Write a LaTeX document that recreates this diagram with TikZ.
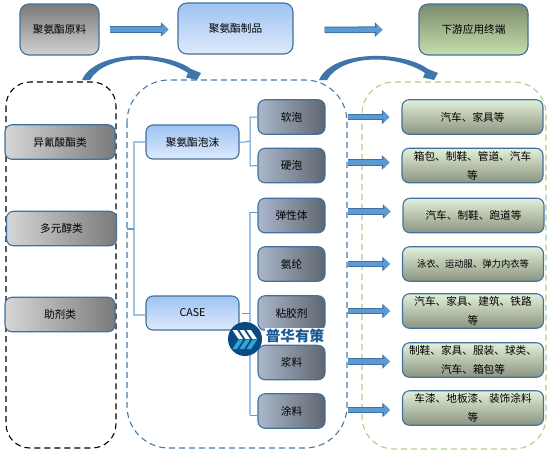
\documentclass[tikz,border=0pt]{standalone}
\usepackage{fontspec}
\setmainfont{Noto Sans CJK SC}
\usetikzlibrary{arrows.meta}
\def\px{0.75pt}
\definecolor{edgeblue}{HTML}{41719C}
\definecolor{arrowfill}{HTML}{5B9BD5}
\definecolor{arrowedge}{HTML}{41719C}
\definecolor{treelight}{HTML}{9DC3E6}
\definecolor{treemid}{HTML}{5B9BD5}
\definecolor{frameblue}{HTML}{4A7BA8}
\definecolor{framegreen}{HTML}{A9D18E}
\definecolor{markblue}{HTML}{0B4A80}
\definecolor{markcyan}{HTML}{2FA8D8}
\definecolor{marktext}{HTML}{1B5A94}
\definecolor{bluegrad1}{HTML}{9DC3F2}
\definecolor{bluegrad2}{HTML}{DEEAFB}
\definecolor{green1}{HTML}{7C8A6C}
\definecolor{green2}{HTML}{C6E0AC}
\definecolor{prodl}{HTML}{AAB7CB}
\definecolor{prodr}{HTML}{5F6670}
\definecolor{use1}{HTML}{E2F0D9}
\definecolor{use2}{HTML}{8C9480}
\definecolor{bendend}{HTML}{3F75AB}
\definecolor{bendmid}{HTML}{8DB3DA}
\tikzset{
  base/.style={draw=edgeblue,line width=1.1*\px,rounded corners=7*\px,inner sep=0pt,font=\fontsize{8}{14.25}\selectfont,align=center},
  big/.style={base,rounded corners=9*\px},
  greytop/.style={big,top color=black!52,bottom color=black!18},
  greentop/.style={big,top color=green1,bottom color=green2},
  rawitem/.style={base,left color=black!16,right color=black!52,minimum width=110*\px,minimum height=34.5*\px},
  foamcase/.style={base,top color=bluegrad1,bottom color=bluegrad2,minimum width=93*\px,minimum height=34*\px},
  product/.style={base,left color=prodl,right color=prodr,minimum width=67*\px,minimum height=34.5*\px},
  useend/.style={base,top color=use1,bottom color=use2,minimum width=141*\px,minimum height=34.5*\px},
  blockarrow/.style={preaction={draw=arrowedge,line width=6.5*\px,-{Triangle[length=7.5*\px,width=14*\px]}},draw=arrowfill,line width=4.5*\px,-{Triangle[length=6*\px,width=11*\px]}},
  treethin/.style={draw=treemid,line width=1*\px},
  treethick/.style={draw=treelight,line width=2*\px},
  frameshape/.style={line width=1.1*\px,dash pattern=on 6*\px off 4*\px},
  bendarrow/.style={left color=bendend,middle color=bendmid,right color=bendend,draw=none},
}
\begin{document}
\begin{tikzpicture}[x=0.75pt,y=-0.75pt]
\useasboundingbox[fill=white] (0,0) rectangle (552,455);
% frames
\draw[frameshape,draw=black,rounded corners=24*\px] (6,82) rectangle (116,448);
\draw[frameshape,draw=frameblue,rounded corners=42*\px] (127,80) rectangle (347,448);
\draw[frameshape,draw=framegreen,rounded corners=32*\px] (362,82) rectangle (546,449);
% top row
\node[greytop,minimum width=79*\px,minimum height=51*\px] (raw) at (59.5,29.5) {聚氨酯原料};
\node[big,top color=bluegrad1,bottom color=bluegrad2,minimum width=115*\px,minimum height=51*\px] (prod) at (235.5,28.5) {聚氨酯制品};
\node[greentop,minimum width=109*\px,minimum height=51*\px] (down) at (473.5,29.5) {下游应用终端};
% raw materials
\node[rawitem] (iso) at (60,142) {异氰酸酯类};
\node[rawitem] (poly) at (61.5,228.5) {多元醇类};
\node[rawitem] (aux) at (60,314.5) {助剂类};
% tree nodes
\coordinate (stub) at (127,229);
\coordinate (junc) at (134,229);
\coordinate (spineTop) at (250,212);
\node[foamcase] (foam) at (192.5,142) {聚氨酯泡沫};
\node[foamcase] (case) at (192.5,313) {CASE};
\node[product] (soft) at (291.5,117) {软泡};
\node[product] (hard) at (291.5,165.5) {硬泡};
\node[product] (elast) at (291.5,215.5) {弹性体};
\node[product] (span) at (291.5,264) {氨纶};
\node[product] (glue) at (291.5,313) {粘胶剂};
\node[product] (slurry) at (291.5,362.5) {浆料};
\node[product] (coat) at (291.5,411) {涂料};
\draw[treethick] (foam.west) -- (134,142) -- (134,315) -- ([yshift=-2*\px]case.west);
\draw[treethin,line width=1.5*\px] (stub) -- (junc);
\draw[treethin] (foam.east) -- (245,142) -- (250,141) -- (250,117) -- (soft.west);
\draw[treethin] (250,141) -- (250,166) -- (hard.west);
\draw[treethick] (spineTop) -- (250,415);
\draw[treethin] ([yshift=3.5*\px]elast.west) -- (spineTop);
\draw[treethin] ([yshift=-4*\px]coat.west) -- (250,415);
\draw[treethin] (242,313) -- (250,313);
% use nodes
\node[useend] (u1) at (472.5,117) {汽车、家具等};
\node[useend] (u2) at (472.5,165.5) {箱包、制鞋、管道、汽车\\等};
\node[useend] (u3) at (473.5,215.5) {汽车、制鞋、跑道等};
\node[useend,font=\fontsize{7}{14.25}\selectfont] (u4) at (473,264) {泳衣、运动服、弹力内衣等};
\node[useend] (u5) at (473,311) {汽车、家具、建筑、铁路\\等};
\node[useend] (u6) at (473,360) {制鞋、家具、服装、球类、\\汽车、箱包等};
\node[useend] (u7) at (473,408) {车漆、地板漆、装饰涂料\\等};
% block arrows
\draw[blockarrow,shorten <=10*\px,shorten >=9*\px] (raw.east) -- (prod.west |- raw.east);
\draw[blockarrow,shorten <=31*\px,shorten >=36*\px] (prod.east) ++(0,1.5) -- (down.west);
\foreach \a/\b/\o in {soft/u1/0,hard/u2/-3,elast/u3/-4,span/u4/0,glue/u5/-2,slurry/u6/-1,coat/u7/-1}{
  \path ([yshift=-\o*\px]\a.east) coordinate (tmpa);
  \draw[blockarrow,shorten <=22*\px,shorten >=12*\px] (tmpa) -- (\b.west |- tmpa);
}
% curved arrows
\foreach \s in {0,237}{
  \begin{scope}[xshift=\s*\px]
  \path[bendarrow] (82,80) .. controls (95,50) and (165,50) .. (191,69) -- (201,73) -- (197,80) -- (186,77.5) -- (188,73) .. controls (160,54) and (105,54) .. (90,80) -- cycle;
  \end{scope}
}
% watermark
\node[fill=white,inner sep=1pt,text=marktext,font=\fontsize{10.9}{12}\selectfont\bfseries] (marktxt) at (295,336) {普华有策};
\node[circle,fill=markblue,minimum size=34*\px,inner sep=0pt] (mark) at (245,339) {};
\foreach \dx in {0,7,14}{
  \fill[white] (\dx+232.5,330) -- (\dx+237,330) -- (\dx+243,339) -- (\dx+238.5,339) -- cycle;
  \fill[markcyan] (\dx+238.5,339.8) -- (\dx+243,339.8) -- (\dx+237,349) -- (\dx+232.5,349) -- cycle;
}
\end{tikzpicture}
\end{document}
